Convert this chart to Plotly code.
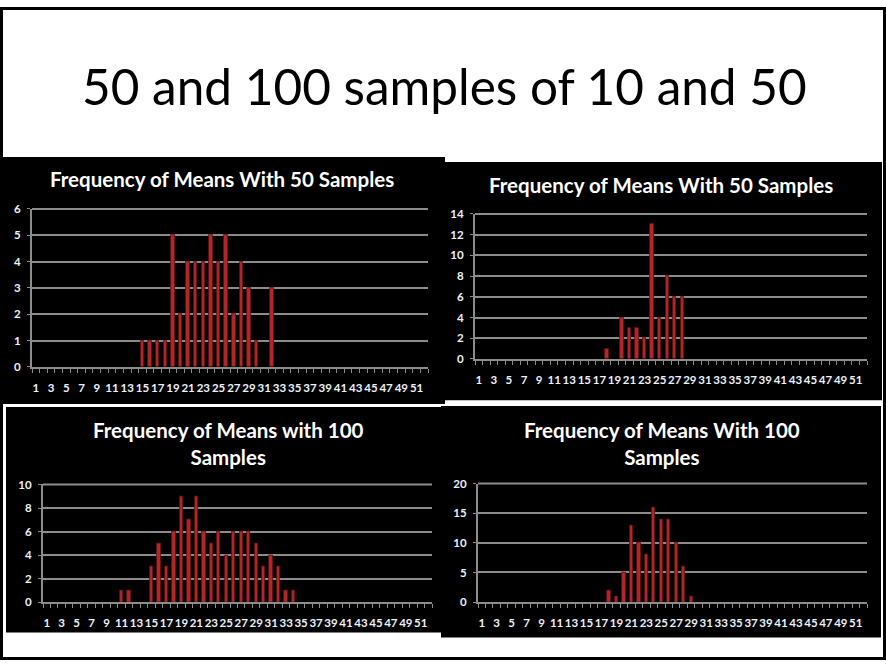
import plotly.graph_objects as go

W, H = 886, 666

# Frequency of sample means (bin -> count) for each of the four experiments
bins_50x10 = [15, 16, 17, 18, 19, 20, 21, 22, 23, 24, 25, 26, 27, 28, 29, 30, 32]
freq_50x10 = [1, 1, 1, 1, 5, 2, 4, 4, 4, 5, 4, 5, 2, 4, 3, 1, 3]

bins_50x50 = [18, 20, 21, 22, 23, 24, 25, 26, 27, 28]
freq_50x50 = [1, 4, 3, 3, 2, 13, 4, 8, 6, 6]

bins_100x10 = [11, 12, 15, 16, 17, 18, 19, 20, 21, 22, 23, 24, 25, 26, 27, 28, 29, 30, 31, 32, 33, 34]
freq_100x10 = [1, 1, 3, 5, 3, 6, 9, 7, 9, 6, 5, 6, 4, 6, 6, 6, 5, 3, 4, 3, 1, 1]

bins_100x50 = [18, 19, 20, 21, 22, 23, 24, 25, 26, 27, 28, 29]
freq_100x50 = [2, 1, 5, 13, 10, 8, 16, 14, 14, 10, 6, 1]

n_categories = 52
x_tick_labels = [str(v) for v in range(1, n_categories + 1, 2)]

slide_title = "50 and 100 samples of 10 and 50"
chart_titles = [
    "Frequency of Means With 50 Samples",
    "Frequency of Means With 50 Samples",
    "Frequency of Means with 100<br>Samples",
    "Frequency of Means With 100<br>Samples",
]


def xd(a, b):
    return [a / W, b / W]


def yd(top, bottom):
    return [1 - bottom / H, 1 - top / H]


# pixel boxes of each plot area: (left, right, top, bottom), y max, y step
panels = [
    ((32, 428, 206, 367), 6, 1, bins_50x10, freq_50x10),
    ((475, 867, 211, 359), 14, 2, bins_50x50, freq_50x50),
    ((43, 432, 487, 607), 10, 2, bins_100x10, freq_100x10),
    ((478, 867, 486, 607), 20, 5, bins_100x50, freq_100x50),
]

# black chart backgrounds (x0, x1, y0, y1) in pixels
chart_boxes = [
    (3, 445, 153, 405),
    (445, 882, 158, 401),
    (6, 442, 408, 638),
    (441, 881, 407, 643),
]
title_pos = [(222, 175), (661, 182), (228, 445), (662, 445)]

fig = go.Figure()
layout = dict(
    width=W, height=H,
    margin=dict(l=0, r=0, t=0, b=0),
    paper_bgcolor="white",
    plot_bgcolor="#414141",
    showlegend=False,
    bargap=0,
)

tick_font = dict(family="Lato, Carlito, sans-serif", size=11.5, color="#eef2fa", weight="bold")
grid_col = "#8c8c8c"

for i, ((l, r, t, b), ymax, ystep, bins, freq) in enumerate(panels, start=1):
    xa = "x" if i == 1 else f"x{i}"
    ya = "y" if i == 1 else f"y{i}"
    fig.add_trace(go.Bar(
        x=bins, y=freq, xaxis=xa, yaxis=ya, width=0.45,
        marker=dict(color="#b3272a", line=dict(color="#5e1010", width=0.8)),
    ))
    layout["xaxis" if i == 1 else f"xaxis{i}"] = dict(
        domain=xd(l, r), anchor=ya, range=[0.5, n_categories + 0.5],
        tickvals=list(range(1, n_categories + 1, 2)), ticktext=x_tick_labels,
        tickangle=0, ticks="", showgrid=False, zeroline=False,
        showline=True, linecolor=grid_col, linewidth=2,
        minor=dict(ticks="outside", tick0=0.5, dtick=1, ticklen=4,
                   tickcolor=grid_col, tickwidth=1, showgrid=False),
        tickfont=tick_font, ticklabelstandoff=9, fixedrange=True,
    )
    layout["yaxis" if i == 1 else f"yaxis{i}"] = dict(
        domain=yd(t, b), anchor=xa, range=[0, ymax], dtick=ystep,
        ticks="outside", ticklen=3, tickcolor=grid_col,
        showgrid=True, gridcolor=grid_col, gridwidth=1.5,
        zeroline=False, showline=True, linecolor=grid_col, linewidth=2,
        mirror=False, tickfont=tick_font, ticklabelstandoff=4, fixedrange=True,
    )

shapes = []
for (x0, x1, y0, y1) in chart_boxes:
    shapes.append(dict(type="rect", xref="paper", yref="paper",
                       x0=x0 / W, x1=x1 / W, y0=1 - y1 / H, y1=1 - y0 / H,
                       fillcolor="black", line=dict(width=0), layer="below"))
# plot area top border
for ((l, r, t, b), *_rest) in panels:
    shapes.append(dict(type="line", xref="paper", yref="paper",
                       x0=l / W, x1=r / W, y0=1 - t / H, y1=1 - t / H,
                       line=dict(color=grid_col, width=2)))
# outer frame of the slide
shapes.append(dict(type="rect", xref="paper", yref="paper",
                   x0=1.5 / W, x1=1 - 1.5 / W, y0=1.5 / H, y1=1 - 1.5 / H,
                   line=dict(color="black", width=3)))
layout["shapes"] = shapes

annotations = [dict(
    text=slide_title, x=445 / W, y=1 - 81 / H, xref="paper", yref="paper",
    showarrow=False, xanchor="center", yanchor="middle",
    font=dict(family="Lato, Carlito, sans-serif", size=49.5, color="black"),
)]
for txt, (cx, cy) in zip(chart_titles, title_pos):
    annotations.append(dict(
        text=txt, x=cx / W, y=1 - cy / H, xref="paper", yref="paper",
        showarrow=False, xanchor="center", yanchor="middle",
        font=dict(family="Lato, Carlito, sans-serif", size=20.5, color="white", weight="bold"),
    ))
layout["annotations"] = annotations

fig.update_layout(**layout)
fig.write_html("out.html")
